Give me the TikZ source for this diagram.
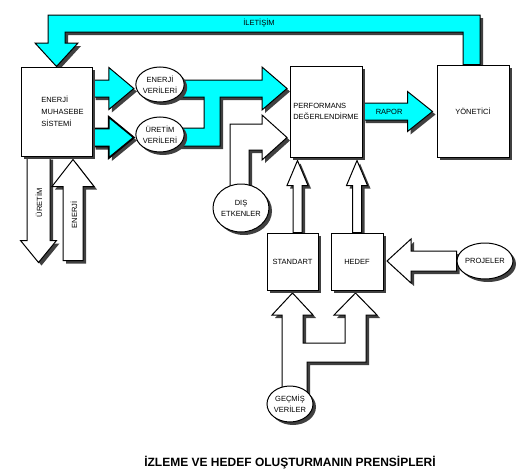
\documentclass[tikz,border=0pt]{standalone}
\usepackage{fontspec}
\setmainfont{Liberation Sans}
\usetikzlibrary{calc}
\usetikzlibrary{shadows}
\usetikzlibrary{shapes.geometric}
\usetikzlibrary{backgrounds}

\definecolor{ciyan}{RGB}{0,255,255}

% block arrow: [options]{from}{to}{shaft half width}{head half width}{head length}
\newcommand{\blkarrow}[6][]{%
\coordinate (hb) at ($(#3)!#6!(#2)$);
\draw[blk,#1] ($(#2)!#4!90:(#3)$) -- ($(hb)!#4!90:(#3)$) -- ($(hb)!#5!90:(#3)$) -- (#3) -- ($(hb)!#5!-90:(#3)$) -- ($(hb)!#4!-90:(#3)$) -- ($(#2)!#4!-90:(#3)$) -- cycle;
}

\begin{document}
\begin{tikzpicture}[x=1pt, y=-1pt,
  dshadow/.style={drop shadow={shadow xshift=3pt, shadow yshift=-3pt, fill=black!75, opacity=1}},
  blk/.style={draw, line width=1pt, fill=white, line join=miter, dshadow},
  kutu/.style={draw, line width=1pt, fill=white, dshadow, inner sep=0pt, align=center, font=\fontsize{7.5}{11}\selectfont},
  daire/.style={ellipse, draw, line width=1pt, fill=white, dshadow, inner sep=0pt, align=center, font=\fontsize{7.5}{11}\selectfont},
  yazi/.style={font=\fontsize{7.5}{9}\selectfont}]
\useasboundingbox (0,0) rectangle (525,471);

% kutular
\node[kutu, minimum width=71pt, minimum height=89pt, label={[xshift=6pt, align=left, font=\fontsize{7.5}{12}\selectfont]center:ENERJİ\\MUHASEBE\\SİSTEMİ}] (msys) at (56.5,111.5) {};
\node[kutu, minimum width=72pt, minimum height=91pt, align=left] (perf) at (326,111.5) {PERFORMANS\\DEĞERLENDİRME};
\node[kutu, minimum width=72pt, minimum height=92pt] (yon) at (473,111) {YÖNETİCİ};
\node[kutu, minimum width=51pt, minimum height=57pt] (std) at (292.5,261.5) {STANDART};
\node[kutu, minimum width=52pt, minimum height=57pt] (hedef) at (357,261.5) {HEDEF};

% daireler
\node[daire, minimum width=47pt, minimum height=35pt] (enver) at (160,84.5) {ENERJİ\\VERİLERİ};
\node[daire, minimum width=47pt, minimum height=35pt] (urver) at (160,134.5) {ÜRETİM\\VERİLERİ};
\node[daire, minimum width=52pt, minimum height=48pt] (dis) at (241,208) {DIŞ\\ETKENLER};
\node[daire, minimum width=50pt, minimum height=36pt] (proj) at (485,261) {PROJELER};
\node[daire, minimum width=46pt, minimum height=36pt] (gecmis) at (290,404) {GEÇMİŞ\\VERİLER};

\begin{scope}[on background layer]
% iletisim
\draw[blk, fill=ciyan] ([xshift=-10pt]yon.north) |- (65,32) |- (78,43) -- (msys.north) -- (35,43) -| (48,15) -| ([xshift=7pt]yon.north) -- cycle;
% veriler -> performans
\draw[blk, fill=ciyan] (160,80) -- (262,80) -- (262,67) -- (287,88.5) -- (262,110) -- (262,97) -- (220,97) -- (220,146) -- (160,146) -- (160,128) -- (204,128) -- (204,97) -- (160,97) -- cycle;
% dis etkenler
\draw[blk] (230,200) -- (230,124) -- (262,124) -- (262,115) -- (287,137.5) -- (262,160) -- (262,150) -- (249,150) -- (249,200) -- cycle;
% gecmis veriler
\draw[blk] (282,398) -- (282,315) -- (272,315) -- (292.5,293) -- (313,315) -- (303,315) -- (303,343) -- (345,343) -- (345,315) -- (334,315) -- (355.5,293) -- (377,315) -- (366,315) -- (366,362) -- (307,362) -- (307,398) -- cycle;

\coordinate (a1) at ($(msys.east |- enver.west)+(0,4)$);
\coordinate (a2) at ($(enver.west)+(-1.5,4)$);
\blkarrow[fill=ciyan]{a1}{a2}{8.5pt}{21pt}{25pt}
\coordinate (a3) at ($(msys.east |- urver.west)+(0,3)$);
\coordinate (a4) at ($(urver.west)+(-1.5,3)$);
\blkarrow[fill=ciyan, line width=1.8pt]{a3}{a4}{9pt}{20.5pt}{25pt}
\coordinate (r2) at ($(perf.east -| yon.west)+(-4,0)$);
\blkarrow[fill=ciyan]{perf.east}{r2}{8.5pt}{20pt}{25pt}
\coordinate (u1) at ($(msys.south)+(-18,0)$);
\coordinate (u2) at ($(msys.south)+(-18,106)$);
\blkarrow{u1}{u2}{11.5pt}{18pt}{22pt}
\coordinate (e1) at ($(msys.south)+(16.5,104)$);
\coordinate (e2) at ($(msys.south)+(16.5,3)$);
\blkarrow{e1}{e2}{10pt}{21pt}{27pt}
\coordinate (s1) at ($(std.north)+(5,0)$);
\coordinate (s2) at ($(s1 |- perf.south)+(0,3)$);
\blkarrow{s1}{s2}{4.5pt}{10.5pt}{25pt}
\coordinate (h2) at ($(hedef.north |- perf.south)+(0,3)$);
\blkarrow{hedef.north}{h2}{4.5pt}{10.5pt}{25pt}
\coordinate (p2) at ($(hedef.east |- proj.west)+(3.5,0)$);
\blkarrow{proj.west}{p2}{10pt}{22pt}{24pt}
\end{scope}

% etiketler
\node[yazi] at (259,23) {İLETİŞİM};
\node[yazi] at ($(perf.east)!0.38!(r2)$) {RAPOR};
\node[yazi, rotate=90] at (39,203) {ÜRETİM};
\node[yazi, rotate=90] at (74,215) {ENERJİ};
\node[font=\bfseries\fontsize{12}{14}\selectfont] (baslik) at (290,462.5) {İZLEME VE HEDEF OLUŞTURMANIN PRENSİPLERİ};
\end{tikzpicture}
\end{document}
